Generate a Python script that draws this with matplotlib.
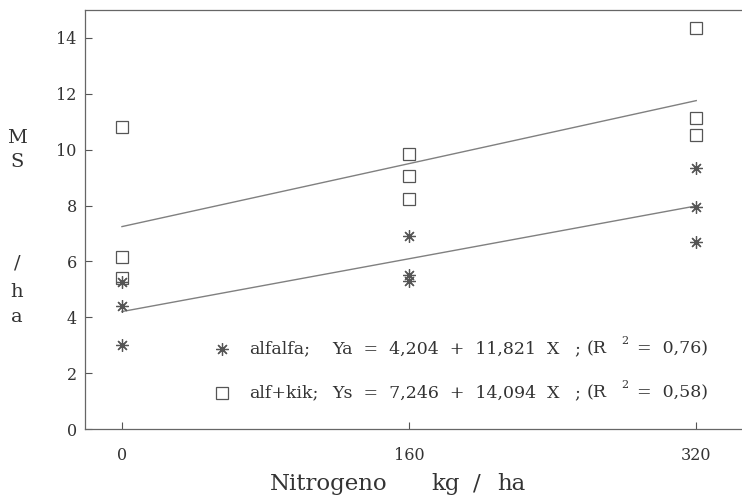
import matplotlib
matplotlib.use("Agg")
import matplotlib.pyplot as plt
import numpy as np

plt.rcParams['font.family'] = ['DejaVu Serif']

# Data
nitrogen_levels = [0, 160, 320]
alfalfa_x = [0, 0, 0, 160, 160, 160, 320, 320, 320]
alfalfa_y = [5.25, 4.4, 3.0, 6.92, 5.52, 5.3, 9.35, 7.96, 6.7]
alfkik_x = [0, 0, 0, 160, 160, 160, 320, 320, 320]
alfkik_y = [10.8, 6.15, 5.4, 9.85, 9.05, 8.25, 14.35, 11.12, 10.52]
# regression coefficients (X in t/ha)
alfalfa_coef = (4.204, 11.821)
alfkik_coef = (7.246, 14.094)
y_ticks = [0, 2, 4, 6, 8, 10, 12, 14]

legend_alfalfa = ["alfalfa;", "Ya  =  4,204  +  11,821  X", ";", "(R", "2", "=  0,76)"]
legend_alfkik = ["alf+kik;", "Ys  =  7,246  +  14,094  X", ";", "(R", "2", "=  0,58)"]

W, H = 742, 499
fig = plt.figure(figsize=(W / 100, H / 100), dpi=100)
ax = fig.add_axes([85 / W, 70 / H, 1 - 85 / W, (429 - 10) / H])

gray = '#555555'
tc = '#333333'

xs = np.array([0, 320])
ax.plot(xs, alfalfa_coef[0] + alfalfa_coef[1] * xs / 1000, color='#808080', lw=1.0)
ax.plot(xs, alfkik_coef[0] + alfkik_coef[1] * xs / 1000, color='#808080', lw=1.0)

ax.plot(alfalfa_x, alfalfa_y, linestyle='none', marker=(8, 2, 0), markersize=9,
        markeredgewidth=0.9, color=gray)
ax.plot(alfkik_x, alfkik_y, linestyle='none', marker='s', markersize=8,
        markerfacecolor='none', markeredgewidth=0.9, markeredgecolor=gray)

ax.set_xlim(-20.6, 345.5)
ax.set_ylim(0, 15.0)
ax.set_xticks(nitrogen_levels)
ax.set_xticklabels([str(v) for v in nitrogen_levels])
ax.set_yticks(y_ticks)
ax.tick_params(direction='in', length=5, width=0.8, colors=gray, labelcolor=tc,
               labelsize=11.5)
ax.tick_params(axis='y', pad=6)
ax.tick_params(axis='x', pad=13)
for s in ['left', 'bottom', 'top']:
    ax.spines[s].set_color('#666666')
    ax.spines[s].set_linewidth(0.9)
ax.spines['right'].set_visible(False)

# Legend: symbols and texts
def px_to_data_x(px):
    return ax.transData.inverted().transform(fig.transFigure.transform((px / W, 0)))[0]

fig.canvas.draw()
leg_x_sym = 222
ax.plot([px_to_data_x(leg_x_sym)], [(429 - 349) / 27.93], linestyle='none',
        marker=(8, 2, 0), markersize=9, markeredgewidth=0.9, color=gray)
ax.plot([px_to_data_x(leg_x_sym)], [(429 - 393) / 27.93], linestyle='none', marker='s',
        markersize=8, markerfacecolor='none', markeredgewidth=0.9, markeredgecolor=gray)

token_px = [249, 332, 574, 587, 621, 637]
for tokens, ycen in [(legend_alfalfa, 349), (legend_alfkik, 393)]:
    for tok, px in zip(tokens, token_px):
        if tok == "2":
            fig.text(px / W, 1 - (ycen - 8) / H, tok, fontsize=8, color=tc,
                     ha='left', va='center')
        else:
            fig.text(px / W, 1 - ycen / H, tok, fontsize=12.5, color=tc,
                     ha='left', va='center')

# Axis labels
for word, px in [("Nitrogeno", 329), ("kg", 446), ("/", 477), ("ha", 511)]:
    fig.text(px / W, 1 - 490 / H, word, fontsize=16.5, color=tc, ha='center',
             va='baseline')
for ch, yy in [("M", 138), ("S", 162), ("/", 263), ("h", 292), ("a", 317)]:
    fig.text(17 / W, 1 - yy / H, ch, fontsize=14, color=tc, ha='center', va='center')

fig.savefig("out.png", dpi=100)
